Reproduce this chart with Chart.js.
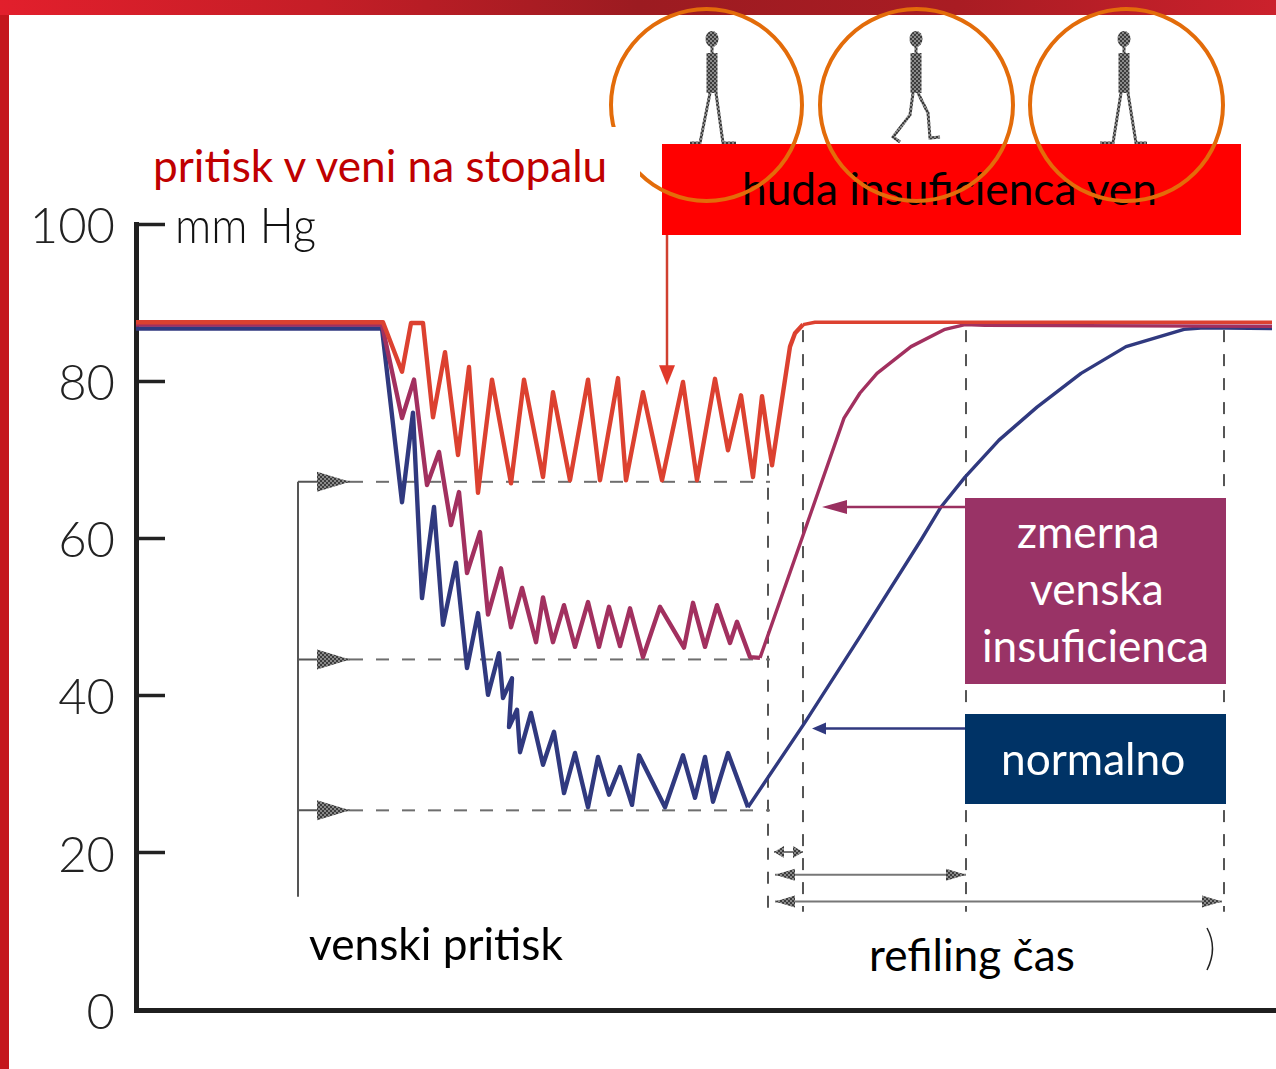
<!DOCTYPE html>
<html>
<head>
<meta charset="utf-8">
<title>pritisk v veni na stopalu</title>
<script src="https://cdn.jsdelivr.net/npm/chart.js@4"></script>
<style>
    html, body { margin: 0; padding: 0; background: #fff; }
    body { position: relative; width: 1276px; height: 1069px; overflow: hidden; font-family: Lato, sans-serif; }
    canvas { position: absolute; left: 0; top: 0; }
    .topBar { position: absolute; left: 0; top: 0; width: 1276px; height: 15px;
        background: linear-gradient(90deg, #e21f2c 0%, #c51e27 25%, #9c1b21 50%, #a91c23 75%, #cb212c 100%); }
    .leftBar { position: absolute; left: 0; top: 15px; width: 9px; height: 1054px; background: #c4161c; }
    .box { position: absolute; }
    .ring { position: absolute; top: 7px; height: 196px; box-sizing: border-box; border: 4.5px solid #e36c0a; border-radius: 50%; }
    .label { position: absolute; white-space: nowrap; transform-origin: 0 0; font-size: 44.2px; line-height: 54px; }
</style>
</head>
<body>
<div class="topBar"></div>
<div class="leftBar"></div>
<canvas id="veinChart" width="1276" height="1069"></canvas>

<div class="box" style="left:662px; top:144px; width:579px; height:91px; background:#ff0000;"></div>
<div class="label" style="left:742px; top:161px; color:#000;">huda insuficienca ven</div>
<div class="ring" style="left:609px; width:195px;"></div>
<div class="ring" style="left:818px; width:197px;"></div>
<div class="ring" style="left:1028px; width:197px;"></div>
<div class="box" style="left:145px; top:127px; width:495px; height:66px; background:#fff;"></div>
<div class="label" style="left:153px; top:138px; color:#c00000;">pritisk v veni na stopalu</div>

<div class="box" style="left:965px; top:498px; width:261px; height:186px; background:#993366;"></div>
<div class="label" style="left:1017px; top:504px; color:#fff;">zmerna</div>
<div class="label" style="left:1030px; top:561px; color:#fff;">venska</div>
<div class="label" style="left:982px; top:618px; color:#fff;">insuficienca</div>

<div class="box" style="left:965px; top:714px; width:261px; height:90px; background:#003366;"></div>
<div class="label" style="left:1001px; top:731px; color:#fff;">normalno</div>

<div class="label" style="left:175px; top:194px; font-size:50px; line-height:60px; font-weight:300; color:#111; transform:scaleX(0.9);">mm Hg</div>
<div class="label" style="left:309px; top:916px; color:#000;">venski pritisk</div>
<div class="box" style="left:762px; top:912px; width:444px; height:72px; background:#fff;"></div>
<div class="label" style="left:869px; top:927px; color:#000;">refiling čas</div>

<script>
// Axis ticks
const pressureTicks = [0, 20, 40, 60, 80, 100];
const timeMax = 114;

// Severe insufficiency (red)
const severeTime = [0, 24.7, 26.6, 27.5, 28.7, 29.7, 30.9, 32.2, 33.3, 34.2, 35.6, 37.5, 38.8, 40.7, 41.7, 43.4, 45.2, 46.4, 48.2, 49.0, 50.7, 52.6, 54.7, 56.1, 57.9, 59.2, 60.5, 61.7, 62.6, 63.6, 65.4, 65.9, 66.7, 67.9, 113.6];
const severePressure = [87.5, 87.5, 81.2, 87.4, 87.4, 75.4, 83.7, 70.6, 81.8, 65.8, 80.2, 67.0, 80.2, 67.8, 78.6, 67.4, 80.2, 67.4, 80.4, 67.4, 78.6, 67.4, 79.9, 67.4, 80.3, 71.2, 78.2, 67.8, 78.1, 69.3, 84.4, 86.1, 87.2, 87.5, 87.5];

// Moderate insufficiency (purple)
const moderateTime = [0, 24.6, 26.6, 27.8, 29.1, 30.3, 31.5, 32.3, 33.1, 34.4, 35.2, 36.5, 37.5, 38.6, 40.0, 40.7, 41.7, 42.8, 43.9, 45.2, 46.3, 47.3, 48.4, 49.4, 50.7, 52.4, 54.8, 55.7, 56.9, 58.1, 59.4, 60.1, 61.4, 62.4, 66.9, 70.8, 72.4, 74.1, 77.5, 80.9, 82.9, 84.9, 113.6];
const moderatePressure = [87.2, 87.2, 75.3, 80.2, 66.8, 71.0, 61.7, 65.9, 55.6, 60.8, 50.3, 56.2, 48.7, 53.7, 46.8, 52.5, 46.8, 51.5, 46.2, 51.9, 46.2, 51.3, 46.3, 51.1, 44.9, 51.3, 46.1, 51.8, 46.2, 51.5, 46.7, 49.4, 44.9, 44.8, 61.1, 75.3, 78.5, 81.0, 84.4, 86.6, 87.2, 87.1, 87.0];

// Normal (blue)
const normalTime = [0, 24.6, 26.6, 27.7, 28.6, 29.8, 30.7, 32.0, 33.1, 34.2, 35.2, 36.3, 36.7, 37.6, 37.3, 38.1, 38.4, 39.5, 40.7, 41.8, 42.8, 43.9, 45.2, 46.2, 47.3, 48.4, 49.6, 50.3, 52.9, 54.7, 55.9, 56.9, 57.7, 59.2, 61.2, 66.9, 72.4, 78.5, 80.5, 82.9, 86.3, 90.1, 94.5, 99.0, 104.8, 106.8, 113.6];
const normalPressure = [86.7, 86.7, 64.6, 76.0, 52.4, 64.0, 49.0, 56.9, 43.5, 50.5, 40.1, 45.4, 39.7, 42.2, 36.0, 38.2, 32.8, 37.8, 31.2, 35.4, 27.6, 32.7, 25.8, 32.2, 27.4, 30.9, 26.1, 32.4, 25.8, 32.4, 27.0, 32.2, 26.5, 32.7, 25.8, 36.6, 47.5, 59.8, 64.0, 67.8, 72.5, 76.7, 81.0, 84.4, 86.6, 86.8, 86.7];

// Guides
const venousLevels = [67.2, 44.6, 25.4];
const venousGuideTime = [21.4, 63.4];
const bracketTime = 16.2;
const bracketBottom = 14.4;
const refillTimes = [63.2, 66.7, 83.0, 108.8];
const refillTops = [69.5, 86.5, 86.5, 86.5];
const refillBottom = 12.5;
const spanLevels = [20.1, 17.2, 13.8];
const spanEnds = [66.7, 83.0, 108.6];
const spanStarts = [63.8, 63.9, 63.9];

function toPoints(times, values) {
    return times.map((t, i) => ({ x: t, y: values[i] }));
}

function guide(points, color, width, dash) {
    return {
        data: points,
        showLine: true,
        pointRadius: 0,
        borderColor: color,
        borderWidth: width,
        borderDash: dash || [],
        tension: 0
    };
}

function curve(times, values, color, thinFrom) {
    const set = guide(toPoints(times, values), color, 4.4);
    set.borderJoinStyle = 'round';
    // thinner line once the curve has left the zigzag part
    set.segment = { borderWidth: ctx => (ctx.p0.parsed.x >= thinFrom ? 3.4 : undefined) };
    return set;
}

const datasets = [
    curve(severeTime, severePressure, '#dc4130', 66.7),
    curve(moderateTime, moderatePressure, '#a2305f', 62.4),
    curve(normalTime, normalPressure, '#30397f', 61.2)
];

venousLevels.forEach(level => {
    datasets.push(guide(venousGuideTime.map(t => ({ x: t, y: level })), '#6e6e6e', 2, [13, 13]));
});
datasets.push(guide([{ x: bracketTime, y: venousLevels[0] }, { x: bracketTime, y: bracketBottom }], '#555', 2));
refillTimes.forEach((t, i) => {
    datasets.push(guide([{ x: t, y: refillTops[i] }, { x: t, y: refillBottom }], '#555', 2, [12, 12]));
});
spanLevels.forEach((level, i) => {
    datasets.push(guide([{ x: spanStarts[i], y: level }, { x: spanEnds[i], y: level }], '#777', 2));
});

// Small dotted fill, the printed figures in the source look halftoned
function dotPattern(ctx) {
    const tile = document.createElement('canvas');
    tile.width = 4;
    tile.height = 4;
    const t = tile.getContext('2d');
    t.fillStyle = '#8a8a8a';
    t.fillRect(0, 0, 4, 4);
    t.fillStyle = '#3c3c3c';
    t.fillRect(0, 0, 2, 2);
    t.fillRect(2, 2, 2, 2);
    return ctx.createPattern(tile, 'repeat');
}

function arrowHead(ctx, tipX, tipY, dirX, dirY, length, halfWidth, color) {
    ctx.fillStyle = color;
    ctx.beginPath();
    ctx.moveTo(tipX, tipY);
    ctx.lineTo(tipX - dirX * length - dirY * halfWidth, tipY - dirY * length + dirX * halfWidth);
    ctx.lineTo(tipX - dirX * length + dirY * halfWidth, tipY - dirY * length - dirX * halfWidth);
    ctx.closePath();
    ctx.fill();
}

function stick(ctx, points, width) {
    ctx.lineWidth = width;
    ctx.beginPath();
    points.forEach((p, i) => (i ? ctx.lineTo(p[0], p[1]) : ctx.moveTo(p[0], p[1])));
    ctx.stroke();
}

function person(ctx, cx, legs, dots) {
    ctx.strokeStyle = dots;
    ctx.fillStyle = dots;
    ctx.beginPath();
    ctx.ellipse(cx, 39, 6.5, 8, 0, 0, Math.PI * 2);
    ctx.fill();
    ctx.fillRect(cx - 1.5, 46, 3, 8);
    ctx.fillRect(cx - 5.5, 53, 11, 40);
    legs.forEach(leg => stick(ctx, leg, 3));
}

// Arrow heads, leader arrows and the three walking figures
const overlayPlugin = {
    id: 'overlay',
    afterDatasetsDraw(chart) {
        const { ctx, scales: { x, y } } = chart;
        const dots = dotPattern(ctx);
        ctx.save();

        // grey arrows on the venous pressure bracket
        ctx.strokeStyle = '#555';
        venousLevels.forEach(level => {
            const py = y.getPixelForValue(level);
            stick(ctx, [[x.getPixelForValue(bracketTime), py], [x.getPixelForValue(venousGuideTime[0]), py]], 2);
            arrowHead(ctx, x.getPixelForValue(venousGuideTime[0]), py, 1, 0, 33, 10, dots);
        });

        // arrows on the refill time spans
        spanLevels.forEach((level, i) => {
            const py = y.getPixelForValue(level);
            const left = x.getPixelForValue(spanStarts[i]);
            const right = x.getPixelForValue(spanEnds[i]);
            const size = i === 0 ? 10 : 20;
            arrowHead(ctx, left, py, -1, 0, size, 6, dots);
            arrowHead(ctx, right, py, 1, 0, size, 6, dots);
        });

        // arrow from the severe label down to its curve
        ctx.strokeStyle = '#d04030';
        stick(ctx, [[x.getPixelForValue(53.1), y.getPixelForValue(98.6)], [x.getPixelForValue(53.1), y.getPixelForValue(81.5)]], 2.5);
        arrowHead(ctx, x.getPixelForValue(53.1), y.getPixelForValue(79.5), 0, 1, 20, 8, '#e0392b');

        // arrow from the moderate box
        ctx.strokeStyle = '#9a3060';
        stick(ctx, [[x.getPixelForValue(83), y.getPixelForValue(64)], [x.getPixelForValue(70), y.getPixelForValue(64)]], 2.5);
        arrowHead(ctx, x.getPixelForValue(68.6), y.getPixelForValue(64), -1, 0, 25, 7, '#9a3060');

        // arrow from the normal box
        ctx.strokeStyle = '#30397f';
        stick(ctx, [[x.getPixelForValue(83), y.getPixelForValue(35.8)], [x.getPixelForValue(68.5), y.getPixelForValue(35.8)]], 2.5);
        arrowHead(ctx, x.getPixelForValue(67.6), y.getPixelForValue(35.8), -1, 0, 14, 6, '#30397f');

        // remainder of a closing bracket beside the white patch
        ctx.strokeStyle = '#222';
        ctx.lineWidth = 1.5;
        ctx.beginPath();
        ctx.moveTo(1207, 928);
        ctx.quadraticCurveTo(1218, 948, 1207, 970);
        ctx.stroke();

        person(ctx, 712, [[[710, 93], [700, 143], [690, 143]], [[716, 93], [723, 143], [736, 143]]], dots);
        person(ctx, 916, [[[913, 93], [910, 115], [893, 137], [900, 142]], [[918, 93], [928, 113], [930, 138], [940, 137]]], dots);
        person(ctx, 1124, [[[1121, 93], [1113, 143], [1100, 143]], [[1128, 93], [1136, 143], [1147, 143]]], dots);

        ctx.restore();
    }
};

new Chart(document.getElementById('veinChart'), {
    type: 'scatter',
    data: { datasets: datasets },
    plugins: [overlayPlugin],
    options: {
        responsive: false,
        animation: false,
        layout: { padding: { top: 224, right: 0, bottom: 0, left: 0 } },
        plugins: { legend: { display: false }, tooltip: { enabled: false } },
        scales: {
            x: {
                type: 'linear',
                min: 0,
                max: timeMax,
                afterFit: scale => { scale.height = 59; },
                ticks: { display: false },
                grid: { drawOnChartArea: false, drawTicks: false },
                border: { display: true, color: '#1f1f1f', width: 5 }
            },
            y: {
                type: 'linear',
                min: 0,
                max: 100,
                afterFit: scale => {
                    scale.width = 136;
                    scale.paddingTop = 0;
                    scale.paddingBottom = 0;
                },
                afterBuildTicks: scale => { scale.ticks = pressureTicks.map(v => ({ value: v })); },
                ticks: {
                    padding: 50,
                    labelOffset: 3,
                    color: '#222',
                    font: { family: 'Lato', size: 49, weight: '300' }
                },
                grid: { drawOnChartArea: false, tickLength: -29, tickWidth: 3.5, tickColor: '#222' },
                border: { display: true, color: '#1f1f1f', width: 5 }
            }
        }
    }
});
</script>
</body>
</html>
